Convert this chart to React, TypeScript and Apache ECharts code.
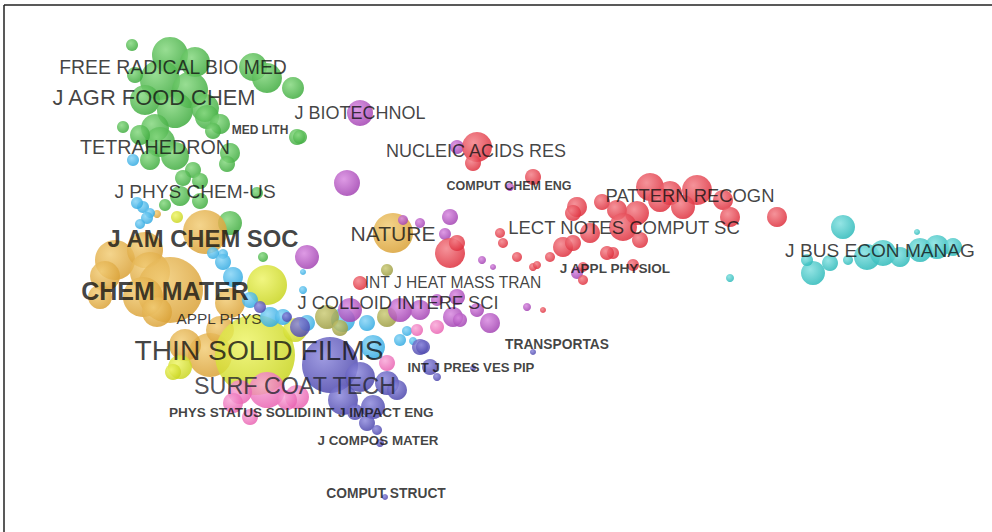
import React, { useEffect, useRef } from "react";
import * as echarts from "echarts";

// Map coordinates (x, y) and radius r for each journal node, grouped by cluster
const greenNodes: number[][] = [
  [132, 45, 6], [170, 55, 18], [195, 62, 15], [160, 80, 20], [190, 90, 18], [145, 100, 15],
  [175, 110, 18], [205, 108, 14], [155, 128, 14], [253, 67, 14], [267, 78, 15], [293, 88, 11],
  [207, 117, 12], [220, 124, 10], [213, 131, 8], [123, 127, 6], [297, 137, 8], [160, 142, 15],
  [175, 156, 14], [150, 160, 10], [230, 153, 10], [227, 164, 8], [193, 170, 8], [183, 178, 8],
  [200, 181, 8], [180, 196, 10], [200, 201, 8], [165, 205, 6], [257, 193, 6], [230, 223, 12],
  [263, 257, 5], [300, 137, 7], [135, 75, 8], [140, 135, 10],
];
const orangeNodes: number[][] = [
  [205, 232, 22], [115, 260, 20], [105, 276, 15], [145, 250, 18], [150, 272, 20], [170, 290, 33],
  [230, 303, 15], [100, 297, 12], [143, 297, 20], [157, 312, 15], [210, 355, 22], [185, 345, 16],
  [393, 233, 20], [157, 214, 4], [220, 330, 14],
];
const yellowNodes: number[][] = [
  [255, 355, 40], [267, 285, 20], [180, 367, 12], [173, 372, 8], [177, 217, 6], [295, 330, 12],
];
const blueNodes: number[][] = [
  [133, 160, 6], [143, 207, 6], [150, 213, 5], [137, 203, 6], [147, 218, 6], [140, 224, 5],
  [223, 254, 5], [213, 253, 6], [233, 277, 10], [250, 300, 8], [270, 317, 10], [283, 317, 8],
  [303, 290, 4], [307, 323, 8], [343, 320, 12], [367, 323, 8], [373, 347, 12], [400, 340, 6],
  [407, 331, 5], [413, 341, 4], [303, 272, 3], [223, 262, 8],
];
const oliveNodes: number[][] = [
  [327, 317, 12], [387, 317, 10], [387, 270, 6], [340, 328, 8],
];
const pinkNodes: number[][] = [
  [267, 390, 18], [240, 392, 12], [297, 397, 12], [233, 403, 10], [250, 417, 8], [387, 363, 8],
  [437, 327, 7], [417, 330, 6], [287, 400, 10],
];
const indigoNodes: number[][] = [
  [330, 365, 28], [360, 377, 15], [387, 383, 12], [343, 400, 15], [373, 407, 12], [367, 423, 8],
  [397, 390, 10], [420, 347, 8], [430, 367, 8], [377, 430, 5], [380, 443, 4], [300, 327, 10],
  [287, 317, 5], [260, 307, 6], [423, 347, 7], [437, 377, 4], [533, 352, 3], [473, 368, 3],
  [385, 497, 3], [355, 412, 8],
];
const purpleNodes: number[][] = [
  [360, 113, 13], [347, 183, 13], [457, 147, 7], [510, 187, 4], [450, 217, 8], [445, 234, 6],
  [403, 220, 5], [420, 223, 5], [482, 260, 4], [493, 267, 3], [307, 257, 12], [577, 273, 6],
  [400, 310, 12], [453, 317, 10], [420, 310, 10], [457, 297, 8], [437, 300, 6], [527, 307, 4],
  [460, 320, 7], [490, 323, 10], [477, 310, 7], [350, 310, 12],
];
const redNodes: number[][] = [
  [477, 147, 15], [473, 163, 8], [533, 177, 8], [450, 253, 15], [457, 243, 8], [500, 233, 5],
  [503, 243, 5], [517, 257, 5], [533, 267, 4], [360, 283, 7], [577, 207, 10], [573, 213, 8],
  [602, 202, 8], [617, 210, 10], [650, 187, 14], [670, 193, 12], [697, 190, 15], [683, 207, 12],
  [723, 200, 10], [730, 217, 10], [777, 217, 10], [637, 213, 12], [623, 227, 14], [640, 240, 8],
  [590, 233, 10], [563, 247, 10], [573, 243, 8], [550, 257, 5], [613, 253, 6], [583, 267, 5],
  [633, 265, 6], [537, 265, 4], [607, 253, 7], [583, 280, 5], [543, 310, 3], [660, 200, 12],
];
const cyanNodes: number[][] = [
  [843, 227, 12], [813, 273, 12], [830, 263, 8], [807, 260, 6], [848, 260, 5], [867, 257, 13],
  [883, 253, 13], [920, 250, 12], [937, 247, 12], [953, 247, 9], [900, 257, 10], [917, 232, 3],
  [730, 278, 4],
];

// Journal labels: name, x, y, label weight (font size)
const labelNames = [
  "FREE RADICAL BIO MED", "J AGR FOOD CHEM", "J BIOTECHNOL", "MED LITH", "TETRAHEDRON",
  "NUCLEIC ACIDS RES", "COMPUT CHEM ENG", "J PHYS CHEM-US", "PATTERN RECOGN",
  "LECT NOTES COMPUT SC", "NATURE", "J AM CHEM SOC", "J BUS ECON MANAG", "J APPL PHYSIOL",
  "INT J HEAT MASS TRAN", "CHEM MATER", "J COLLOID INTERF SCI", "APPL PHYS", "TRANSPORTAS",
  "THIN SOLID FILMS", "INT J PRES VES PIP", "SURF COAT TECH", "PHYS STATUS SOLIDI",
  "INT J IMPACT ENG", "J COMPOS MATER", "COMPUT STRUCT",
];
const labelX = [173, 154, 360, 260, 155, 476, 509, 195, 690, 624, 393, 203, 880, 615, 453, 165, 398, 219, 557, 259, 471, 295, 240, 373, 378, 386];
const labelY = [67, 97, 113, 130, 147, 151, 186, 191, 195, 227, 233, 238, 250, 268, 282, 291, 302, 318, 344, 350, 367, 386, 412, 412, 440, 493];
const labelWeight = [19.4, 21.9, 18, 12, 19.7, 18, 12.5, 19.1, 18.4, 18.5, 21.1, 23.8, 19.1, 13.6, 15.6, 25, 18.3, 15.4, 13.8, 28.2, 13.2, 23.3, 13.6, 13.6, 13.4, 13.8];
const labelBold = [0, 0, 0, 1, 0, 0, 1, 0, 0, 0, 0, 1, 0, 1, 0, 1, 0, 0, 1, 0, 1, 0, 1, 1, 1, 1];

const clusterColors: [string, string][] = [
  ["#3daa3d", "#86d880"],
  ["#d9a035", "#f2cd78"],
  ["#c8d41e", "#eef46a"],
  ["#2fa8e0", "#86d4f6"],
  ["#9a9a40", "#cccc78"],
  ["#e860b0", "#f8a8d8"],
  ["#4a44aa", "#8e8adc"],
  ["#a040b0", "#d889e0"],
  ["#dd2c3a", "#f38088"],
  ["#2ab8b8", "#82e0e0"],
];
const clusters = [greenNodes, orangeNodes, yellowNodes, blueNodes, oliveNodes, pinkNodes, indigoNodes, purpleNodes, redNodes, cyanNodes];

export default function App() {
  const ref = useRef<HTMLDivElement>(null);
  useEffect(() => {
    if (!ref.current) return;
    const chart = echarts.init(ref.current, undefined, { renderer: "svg" });
    const bubbleSeries = clusters.map((nodes, i) => ({
      type: "scatter" as const,
      data: nodes,
      symbolSize: (v: number[]) => v[2] * 2,
      itemStyle: {
        color: {
          type: "radial", x: 0.38, y: 0.35, r: 0.7,
          colorStops: [
            { offset: 0, color: clusterColors[i][1] },
            { offset: 1, color: clusterColors[i][0] },
          ],
        },
        opacity: 0.85,
      },
      z: 2,
    }));
    const labelData = labelNames.map((name, i) => ({
      name,
      value: [labelX[i], labelY[i]],
      label: {
        fontSize: labelWeight[i],
        fontWeight: labelBold[i] ? "bold" : "normal",
        color: name === "SURF COAT TECH" ? "#23232c" : "#111111",
      },
    }));
    chart.setOption({
      animation: false,
      backgroundColor: "#ffffff",
      grid: { left: 0, right: 0, top: 0, bottom: 0 },
      xAxis: { type: "value", min: 0, max: 992, show: false },
      yAxis: { type: "value", min: 0, max: 532, inverse: true, show: false },
      graphic: [
        { type: "line", shape: { x1: 4, y1: 5, x2: 992, y2: 5 }, style: { stroke: "#222", lineWidth: 1.5 } },
        { type: "line", shape: { x1: 4, y1: 5, x2: 4, y2: 532 }, style: { stroke: "#222", lineWidth: 1.5 } },
      ],
      series: [
        ...bubbleSeries,
        {
          type: "scatter",
          data: labelData,
          symbolSize: 1,
          itemStyle: { color: "transparent" },
          z: 10,
          label: {
            show: true,
            position: "inside",
            formatter: "{b}",
            fontFamily: "Liberation Sans, Arial, sans-serif",
            color: "#111111",
            align: "center",
            verticalAlign: "middle",
            lineHeight: 14,
          },
        },
      ],
    });
    return () => chart.dispose();
  }, []);
  return <div ref={ref} style={{ position: "fixed", left: 0, top: 0, width: 992, height: 532 }} />;
}
